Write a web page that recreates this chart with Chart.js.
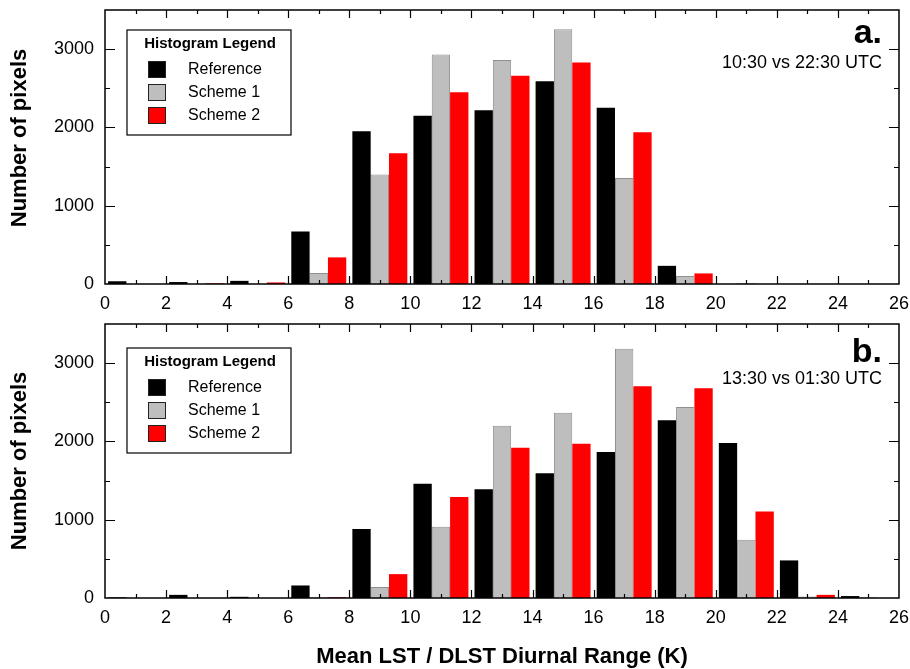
<!DOCTYPE html>
<html>
<head>
<meta charset="utf-8">
<script src="https://cdn.jsdelivr.net/npm/chart.js@4.4.1/dist/chart.umd.min.js"></script>
<style>
  html, body { margin: 0; padding: 0; background: #fff; }
  #wrap { position: relative; width: 910px; height: 669px; overflow: hidden; }
  canvas { position: absolute; left: 0; }
  #panelA { top: 0; }
  #panelB { top: 314px; }
</style>
</head>
<body>
<div id="wrap">
  <canvas id="panelA" width="910" height="314"></canvas>
  <canvas id="panelB" width="910" height="355"></canvas>
</div>
<script>
// Histogram bins: 2 K wide, centred on odd values from 1 to 25 K
const binCenters = [1, 3, 5, 7, 9, 11, 13, 15, 17, 19, 21, 23, 25];
const xTickValues = [0, 2, 4, 6, 8, 10, 12, 14, 16, 18, 20, 22, 24, 26];
const yTickLabels = [0, 1000, 2000, 3000];

const seriesNames = ['Reference', 'Scheme 1', 'Scheme 2'];

// Panel a: 10:30 vs 22:30 UTC
const referenceA = [35, 25, 40, 670, 1950, 2150, 2220, 2590, 2250, 232, 0, 0, 0];
const scheme1A   = [0, 0, 0, 140, 1400, 2930, 2860, 3255, 1355, 102, 12, 0, 0];
const scheme2A   = [0, 8, 20, 340, 1670, 2450, 2660, 2830, 1940, 135, 0, 0, 0];

// Panel b: 13:30 vs 01:30 UTC
const referenceB = [8, 40, 15, 160, 880, 1460, 1390, 1595, 1865, 2270, 1980, 480, 25];
const scheme1B   = [0, 0, 0, 10, 140, 910, 2200, 2365, 3185, 2440, 745, 20, 8];
const scheme2B   = [0, 0, 0, 10, 305, 1290, 1920, 1970, 2705, 2680, 1105, 40, 0];

const panelTags  = ['a.', 'b.'];
const panelNotes = ['10:30 vs 22:30 UTC', '13:30 vs 01:30 UTC'];
const yTitle = 'Number of pixels';
const xTitle = 'Mean LST / DLST Diurnal Range (K)';
const legendTitle = 'Histogram Legend';

const FONT = "'Liberation Sans', Arial, Helvetica, sans-serif";
Chart.defaults.font.family = FONT;
Chart.defaults.color = '#000';

const fills   = ['#000000', '#bebebe', '#ff0000'];
const borders = ['#000000', '#8f8f8f', '#ff0000'];

// Frame, inward tick marks, legend box, panel tag and y title
const panelDecor = {
  id: 'panelDecor',
  afterDatasetsDraw(chart, args, o) {
    const { ctx, chartArea: a, scales: { x, y } } = chart;
    ctx.save();

    // tick marks pointing into the plot on all four sides
    ctx.strokeStyle = '#000';
    ctx.lineWidth = 1.2;
    ctx.beginPath();
    for (let v = x.min + 1; v < x.max; v += 1) {
      const px = Math.round(x.getPixelForValue(v)) + 0.5;
      const len = v % 2 === 0 ? 8 : 4;
      ctx.moveTo(px, a.bottom); ctx.lineTo(px, a.bottom - len);
      ctx.moveTo(px, a.top);    ctx.lineTo(px, a.top + len);
    }
    for (let v = y.min + 500; v < y.max; v += 500) {
      const py = Math.round(y.getPixelForValue(v)) + 0.5;
      const len = v % 1000 === 0 ? 10 : 5;
      ctx.moveTo(a.left, py);  ctx.lineTo(a.left + len, py);
      ctx.moveTo(a.right, py); ctx.lineTo(a.right - len, py);
    }
    ctx.stroke();

    // plot frame
    ctx.lineWidth = 1.5;
    ctx.strokeRect(a.left, a.top, a.right - a.left, a.bottom - a.top);

    // legend box
    const lx = 127, ly = o.legendTop, lw = 164, lh = 105;
    ctx.fillStyle = '#fff';
    ctx.fillRect(lx, ly, lw, lh);
    ctx.lineWidth = 1.2;
    ctx.strokeStyle = '#000';
    ctx.strokeRect(lx, ly, lw, lh);
    ctx.fillStyle = '#000';
    ctx.font = 'bold 15px ' + FONT;
    ctx.textAlign = 'center';
    ctx.textBaseline = 'middle';
    ctx.fillText(legendTitle, lx + lw / 2 + 1, ly + 14);
    ctx.font = '16px ' + FONT;
    ctx.textAlign = 'left';
    chart.data.datasets.forEach((ds, i) => {
      const sy = ly + 31 + i * 23;
      ctx.fillStyle = ds.backgroundColor;
      ctx.fillRect(148, sy, 18, 17);
      ctx.lineWidth = 1;
      ctx.strokeStyle = '#222';
      ctx.strokeRect(148.5, sy + 0.5, 17, 16);
      ctx.fillStyle = '#000';
      ctx.fillText(ds.label, 188, sy + 9);
    });

    // panel tag and time note
    ctx.textAlign = 'right';
    ctx.textBaseline = 'alphabetic';
    ctx.font = 'bold 34px ' + FONT;
    ctx.fillText(o.tag, 882, o.tagBaseline);
    ctx.font = '18px ' + FONT;
    ctx.fillText(o.note, 882, o.noteBaseline);

    // y axis title
    ctx.translate(20, o.yTitleCenter);
    ctx.rotate(-Math.PI / 2);
    ctx.textAlign = 'center';
    ctx.textBaseline = 'middle';
    ctx.font = 'bold 22px ' + FONT;
    ctx.fillText(yTitle, 0, 0);

    ctx.restore();
  }
};

function makeDatasets(seriesList) {
  return seriesList.map((vals, i) => ({
    label: seriesNames[i],
    data: binCenters.map((c, k) => ({ x: c, y: vals[k] })),
    backgroundColor: fills[i],
    borderColor: borders[i],
    borderWidth: i === 1 ? 1 : 0,
    borderSkipped: 'start',
    barPercentage: 1.0,
    categoryPercentage: 0.9
  }));
}

// keep the plot area exactly where the layout padding puts it
function clearScalePadding(scale) {
  scale.paddingTop = 0;
  scale.paddingBottom = 0;
  scale.paddingLeft = 0;
  scale.paddingRight = 0;
}

function makePanel(canvasId, seriesList, idx, decor, showXTitle) {
  const canvas = document.getElementById(canvasId);
  const H = canvas.height;
  return new Chart(canvas, {
    type: 'bar',
    data: { datasets: makeDatasets(seriesList) },
    options: {
      responsive: false,
      animation: false,
      devicePixelRatio: 1,
      layout: { autoPadding: false, padding: { left: 0, right: 11, top: 10, bottom: 0 } },
      plugins: {
        legend: { display: false },
        tooltip: { enabled: false },
        panelDecor: Object.assign({ tag: panelTags[idx], note: panelNotes[idx] }, decor)
      },
      scales: {
        x: {
          type: 'linear',
          min: xTickValues[0],
          max: xTickValues[xTickValues.length - 1],
          offset: false,
          grid: { display: false, drawTicks: false },
          border: { display: false },
          afterBuildTicks(scale) { scale.ticks = xTickValues.map(v => ({ value: v })); },
          ticks: {
            padding: 9,
            maxRotation: 0,
            autoSkip: false,
            font: { size: 18 },
            color: '#000',
            callback: v => String(v)
          },
          title: {
            display: showXTitle,
            text: xTitle,
            font: { size: 22, weight: 'bold', lineHeight: 1.0 },
            padding: { top: 0, bottom: 1 },
            color: '#000'
          },
          afterFit(scale) { scale.height = H - 284; clearScalePadding(scale); }
        },
        y: {
          min: 0,
          max: 3500,
          grid: { display: false, drawTicks: false },
          border: { display: false },
          afterBuildTicks(scale) { scale.ticks = yTickLabels.map(v => ({ value: v })); },
          ticks: { padding: 11, font: { size: 18 }, color: '#000', callback: v => String(v) },
          afterFit(scale) { scale.width = 105; clearScalePadding(scale); }
        }
      }
    },
    plugins: [panelDecor]
  });
}

makePanel('panelA', [referenceA, scheme1A, scheme2A], 0,
  { tagBaseline: 43, noteBaseline: 68, legendTop: 30, yTitleCenter: 138 }, false);
makePanel('panelB', [referenceB, scheme1B, scheme2B], 1,
  { tagBaseline: 48, noteBaseline: 70, legendTop: 34, yTitleCenter: 147 }, true);
</script>
</body>
</html>
